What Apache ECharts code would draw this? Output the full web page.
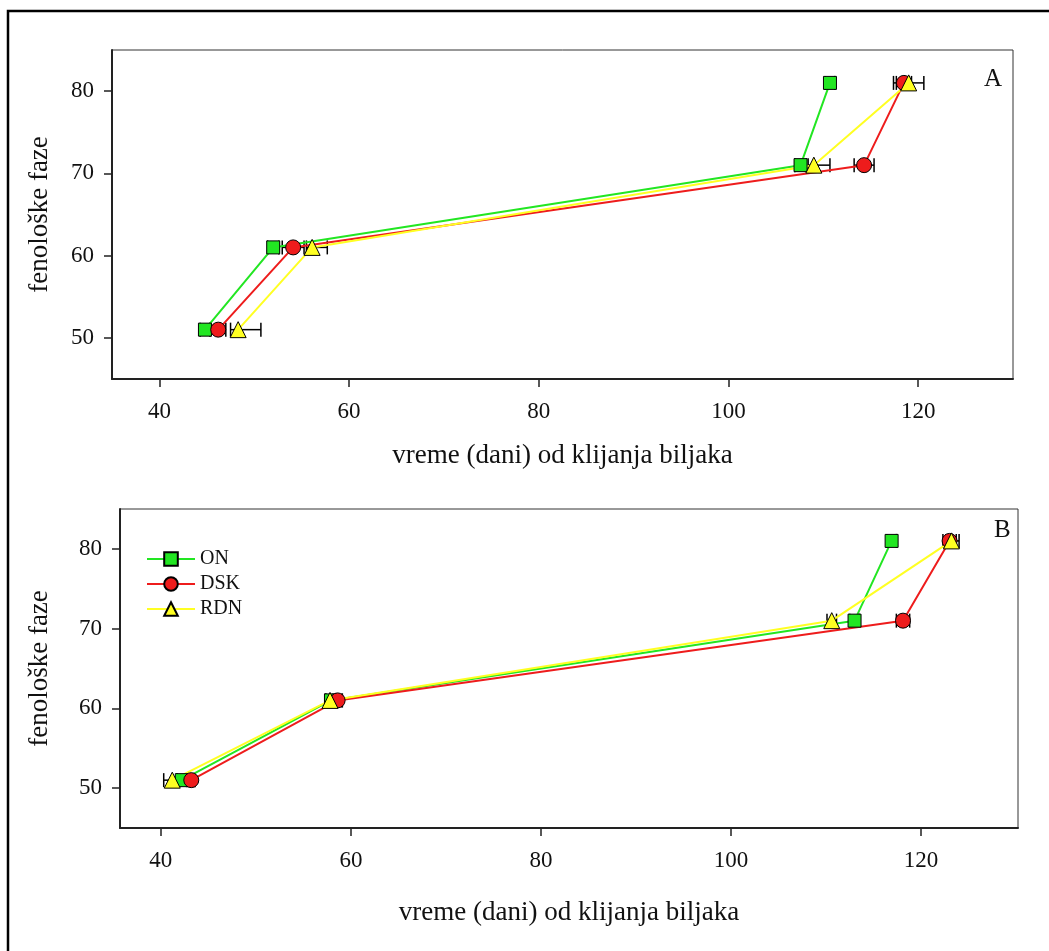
<!DOCTYPE html>
<html>
<head>
<meta charset="utf-8">
<script src="https://cdn.jsdelivr.net/npm/echarts@6/dist/echarts.min.js"></script>
<style>
  html, body { margin: 0; padding: 0; background: #fff; }
  #chart { width: 1049px; height: 951px; }
</style>
</head>
<body>
<div id="chart"></div>
<script>
// Phenological phases (y values) shared by both panels
const phases = [51, 61, 71, 81];
const xTicks = [40, 60, 80, 100, 120];
const yTicks = [50, 60, 70, 80];
const seriesNames = ['ON', 'DSK', 'RDN'];

// Panel A: days from emergence, with error bar extents (minus / plus)
const onA = [44.8, 52.0, 107.6, 110.7];
const onAMinus = [0.5, 0.6, 0.6, 0.5];
const onAPlus = [0.5, 0.6, 0.6, 0.5];
const dskA = [46.2, 54.1, 114.3, 118.5];
const dskAMinus = [0.8, 1.15, 1.05, 0.8];
const dskAPlus = [0.8, 1.15, 1.05, 0.8];
const rdnA = [48.3, 56.1, 109.0, 119.0];
const rdnAMinus = [0.8, 0.6, 0.6, 1.6];
const rdnAPlus = [2.4, 1.6, 1.7, 1.6];

// Panel B
const onB = [42.2, 57.9, 113.0, 116.9];
const onBMinus = [0.5, 0.5, 0.5, 0.5];
const onBPlus = [0.5, 0.5, 0.5, 0.5];
const dskB = [43.2, 58.6, 118.1, 123.0];
const dskBMinus = [0.4, 0.5, 0.7, 0.7];
const dskBPlus = [0.4, 0.5, 0.7, 0.7];
const rdnB = [41.2, 57.8, 110.6, 123.2];
const rdnBMinus = [0.9, 0.5, 0.5, 0.6];
const rdnBPlus = [0.5, 1.25, 0.5, 0.8];

const FONT = "'Liberation Serif', 'Times New Roman', serif";
const COLORS = { ON: '#22e622', DSK: '#ee1c1c', RDN: '#ffff22' };
const SYMBOLS = { ON: 'rect', DSK: 'circle', RDN: 'triangle' };
const SIZES = { ON: 13, DSK: 15, RDN: 16 };

const chart = echarts.init(document.getElementById('chart'), null, { renderer: 'canvas' });

function xAxisDef(gridIndex, min, max, nameGap) {
  return {
    type: 'value', gridIndex, min, max,
    name: 'vreme (dani) od klijanja biljaka',
    nameLocation: 'middle', nameGap,
    nameTextStyle: { fontFamily: FONT, fontSize: 27, color: '#111' },
    splitLine: { show: false },
    axisLine: { show: true, onZero: false, lineStyle: { color: '#222', width: 2 } },
    axisTick: { show: true, length: 8, customValues: xTicks, lineStyle: { color: '#222', width: 1.5 } },
    axisLabel: { customValues: xTicks, margin: 21, fontFamily: FONT, fontSize: 23, color: '#111' }
  };
}
function yAxisDef(gridIndex, nameGap) {
  return {
    type: 'value', gridIndex, min: 45, max: 85,
    name: 'fenološke faze',
    nameLocation: 'middle', nameGap, nameRotate: 90,
    nameTextStyle: { fontFamily: FONT, fontSize: 27, color: '#111' },
    splitLine: { show: false },
    axisLine: { show: true, onZero: false, lineStyle: { color: '#222', width: 2 } },
    axisTick: { show: true, length: 8, customValues: yTicks, lineStyle: { color: '#222', width: 1.5 } },
    axisLabel: { customValues: yTicks, margin: 18, fontFamily: FONT, fontSize: 23, color: '#111' }
  };
}

function lineSeries(name, xs, idx) {
  return {
    type: 'line', name,
    xAxisIndex: idx, yAxisIndex: idx,
    data: xs.map((x, i) => [x, phases[i]]),
    symbol: SYMBOLS[name], symbolSize: SIZES[name],
    lineStyle: { color: COLORS[name], width: 2 },
    itemStyle: { color: COLORS[name], borderColor: '#000', borderWidth: 1 },
    z: 3, animation: false
  };
}

function errorSeries(name, xs, minus, plus, idx) {
  return {
    type: 'custom', name: name + '-err',
    xAxisIndex: idx, yAxisIndex: idx,
    data: xs.map((x, i) => [x - minus[i], x + plus[i], phases[i]]),
    encode: { x: [0, 1], y: 2 },
    renderItem: function (params, api) {
      const lo = api.coord([api.value(0), api.value(2)]);
      const hi = api.coord([api.value(1), api.value(2)]);
      const h = 7;
      const style = { stroke: '#000', lineWidth: 1.5 };
      return {
        type: 'group',
        children: [
          { type: 'line', shape: { x1: lo[0], y1: lo[1], x2: hi[0], y2: hi[1] }, style },
          { type: 'line', shape: { x1: lo[0], y1: lo[1] - h, x2: lo[0], y2: lo[1] + h }, style },
          { type: 'line', shape: { x1: hi[0], y1: hi[1] - h, x2: hi[0], y2: hi[1] + h }, style }
        ]
      };
    },
    z: 2, animation: false, silent: true
  };
}

const option = {
  backgroundColor: '#fff',
  animation: false,
  grid: [
    { left: 112, top: 50, width: 901, height: 329, show: true, borderColor: '#333', borderWidth: 1 },
    { left: 120, top: 509, width: 898, height: 319, show: true, borderColor: '#333', borderWidth: 1 }
  ],
  xAxis: [xAxisDef(0, 35, 130, 63), xAxisDef(1, 35.7, 130.2, 71)],
  yAxis: [yAxisDef(0, 59), yAxisDef(1, 67)],
  legend: {
    data: seriesNames,
    orient: 'vertical',
    left: 141, top: 544,
    itemWidth: 48, itemHeight: 17, itemGap: 5,
    textStyle: { fontFamily: FONT, fontSize: 20, color: '#111' },
    selectedMode: false
  },
  graphic: [
    { type: 'rect', shape: { x: 8, y: 11, width: 1200, height: 1100 },
      style: { fill: 'none', stroke: '#000', lineWidth: 2.5 }, silent: true },
    { type: 'text', left: 984, top: 67,
      style: { text: 'A', fontFamily: FONT, fontSize: 25, fill: '#111' } },
    { type: 'text', left: 994, top: 518,
      style: { text: 'B', fontFamily: FONT, fontSize: 25, fill: '#111' } }
  ],
  series: [
    errorSeries('ON', onA, onAMinus, onAPlus, 0),
    errorSeries('DSK', dskA, dskAMinus, dskAPlus, 0),
    errorSeries('RDN', rdnA, rdnAMinus, rdnAPlus, 0),
    lineSeries('ON', onA, 0),
    lineSeries('DSK', dskA, 0),
    lineSeries('RDN', rdnA, 0),
    errorSeries('ON', onB, onBMinus, onBPlus, 1),
    errorSeries('DSK', dskB, dskBMinus, dskBPlus, 1),
    errorSeries('RDN', rdnB, rdnBMinus, rdnBPlus, 1),
    lineSeries('ON', onB, 1),
    lineSeries('DSK', dskB, 1),
    lineSeries('RDN', rdnB, 1)
  ]
};

chart.setOption(option);
</script>
</body>
</html>
